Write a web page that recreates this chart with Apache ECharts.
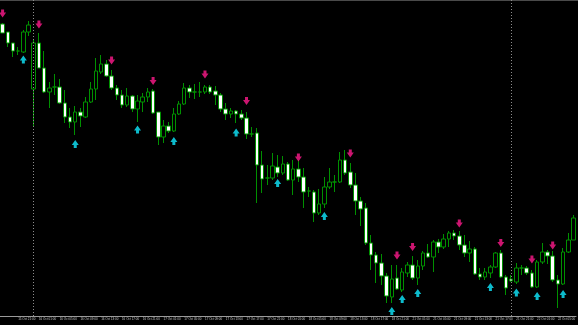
<!DOCTYPE html>
<html>
<head>
<meta charset="utf-8">
<script src="https://cdn.jsdelivr.net/npm/echarts@6/dist/echarts.min.js"></script>
<style>
html,body{margin:0;padding:0;background:#000;}
#chart{width:578px;height:325px;}
</style>
</head>
<body>
<div id="chart"></div>
<script>
// OHLC values (hidden price scale)
const opens = [
1.3676,1.3668,1.3657,1.3649,1.3648,1.3668,1.3611,1.3657,1.3632,1.3608,
1.3613,1.3613,1.3597,1.3583,1.3578,1.3588,1.3583,1.3598,1.3611,1.3628,
1.3636,1.3624,1.3612,1.3605,1.3595,1.3604,1.3591,1.3598,1.3603,1.3609,
1.3588,1.3563,1.3574,1.3569,1.3586,1.3596,1.3612,1.3608,1.3608,1.3608,
1.3613,1.3609,1.3605,1.3591,1.3586,1.3589,1.3586,1.3582,1.3566,1.3567,
1.3535,1.3522,1.3522,1.3533,1.3527,1.3536,1.3520,1.3531,1.3523,1.3509,
1.3508,1.3487,1.3496,1.3513,1.3518,1.3518,1.3540,1.3528,1.3515,1.3499,
1.3492,1.3457,1.3445,1.3437,1.3424,1.3403,1.3422,1.3410,1.3427,1.3435,
1.3422,1.3434,1.3447,1.3443,1.3458,1.3453,1.3461,1.3467,1.3464,1.3455,
1.3447,1.3451,1.3426,1.3423,1.3427,1.3433,1.3447,1.3423,1.3421,1.3418,
1.3432,1.3432,1.3427,1.3413,1.3438,1.3448,1.3444,1.3420,1.3416,1.3448,
1.3460];
const closes = [
1.3667,1.3657,1.3649,1.3649,1.3668,1.3675,1.3657,1.3632,1.3608,1.3612,
1.3613,1.3597,1.3583,1.3578,1.3588,1.3584,1.3598,1.3611,1.3629,1.3636,
1.3624,1.3612,1.3605,1.3595,1.3604,1.3591,1.3599,1.3603,1.3608,1.3587,
1.3563,1.3574,1.3569,1.3586,1.3596,1.3612,1.3608,1.3608,1.3608,1.3613,
1.3608,1.3605,1.3591,1.3586,1.3589,1.3586,1.3582,1.3566,1.3566,1.3535,
1.3521,1.3522,1.3534,1.3527,1.3536,1.3520,1.3531,1.3523,1.3508,1.3509,
1.3487,1.3496,1.3513,1.3518,1.3518,1.3540,1.3527,1.3515,1.3499,1.3491,
1.3457,1.3445,1.3437,1.3424,1.3404,1.3421,1.3411,1.3428,1.3435,1.3422,
1.3434,1.3447,1.3443,1.3458,1.3453,1.3461,1.3467,1.3464,1.3455,1.3447,
1.3451,1.3426,1.3423,1.3428,1.3433,1.3447,1.3423,1.3412,1.3419,1.3432,
1.3432,1.3427,1.3413,1.3438,1.3448,1.3444,1.3420,1.3416,1.3448,1.3460,
1.3482];
const lows = [
1.3667,1.3653,1.3643,1.3645,1.3647,1.3664,1.3574,1.3632,1.3607,1.3592,
1.3605,1.3596,1.3577,1.3572,1.3565,1.3573,1.3582,1.3597,1.3600,1.3626,
1.3623,1.3610,1.3600,1.3592,1.3593,1.3588,1.3578,1.3588,1.3598,1.3586,
1.3555,1.3557,1.3567,1.3568,1.3585,1.3595,1.3602,1.3601,1.3603,1.3606,
1.3606,1.3595,1.3588,1.3580,1.3582,1.3577,1.3580,1.3561,1.3563,1.3497,
1.3507,1.3515,1.3520,1.3523,1.3525,1.3519,1.3505,1.3518,1.3492,1.3503,
1.3478,1.3485,1.3492,1.3511,1.3508,1.3517,1.3525,1.3512,1.3485,1.3474,
1.3455,1.3430,1.3417,1.3415,1.3397,1.3397,1.3410,1.3408,1.3423,1.3420,
1.3415,1.3430,1.3442,1.3428,1.3447,1.3451,1.3453,1.3460,1.3450,1.3443,
1.3438,1.3425,1.3420,1.3420,1.3422,1.3432,1.3422,1.3405,1.3418,1.3416,
1.3425,1.3425,1.3412,1.3412,1.3436,1.3436,1.3418,1.3392,1.3415,1.3447,
1.3460];
const highs = [
1.3677,1.3668,1.3657,1.3653,1.3670,1.3679,1.3660,1.3667,1.3649,1.3618,
1.3626,1.3621,1.3610,1.3592,1.3594,1.3592,1.3603,1.3618,1.3642,1.3645,
1.3640,1.3630,1.3615,1.3610,1.3612,1.3605,1.3605,1.3607,1.3612,1.3611,
1.3588,1.3580,1.3578,1.3592,1.3599,1.3617,1.3615,1.3616,1.3618,1.3615,
1.3615,1.3614,1.3607,1.3597,1.3592,1.3590,1.3590,1.3588,1.3573,1.3572,
1.3549,1.3535,1.3547,1.3545,1.3544,1.3538,1.3540,1.3540,1.3532,1.3513,
1.3510,1.3511,1.3523,1.3532,1.3525,1.3548,1.3550,1.3537,1.3527,1.3503,
1.3497,1.3465,1.3448,1.3446,1.3427,1.3435,1.3435,1.3432,1.3438,1.3444,
1.3440,1.3449,1.3456,1.3460,1.3461,1.3466,1.3469,1.3470,1.3469,1.3465,
1.3459,1.3453,1.3432,1.3432,1.3435,1.3448,1.3450,1.3425,1.3425,1.3437,
1.3435,1.3434,1.3430,1.3440,1.3457,1.3450,1.3449,1.3425,1.3452,1.3467,
1.3485];

// signal arrows: bar index and price level
const downArrowBars   = [0, 7, 21, 29, 39, 47, 57, 67, 76, 79, 88, 96, 102, 106];
const downArrowPrices = [1.36865,1.36755,1.36395,1.3619,1.36255,1.3599,1.35425,1.35465,1.34445,1.3453,1.34765,1.3457,1.34405,1.34545];
const upArrowBars     = [4, 14, 26, 33, 45, 53, 62, 75, 77, 80, 94, 99, 103, 108];
const upArrowPrices   = [1.36405,1.3556,1.35705,1.3559,1.35675,1.3517,1.3484,1.3389,1.3401,1.3407,1.3413,1.34075,1.3404,1.3406];

// period separators (bar index)
const separatorBars = [6, 98];

// time axis tick labels
const tickBars = [0,3,7,11,15,19,23,27,31,35,39,43,47,51,55,59,63,67,71,75,79,83,87,91,95,99,103,107];
const tickLabels = ['15 Oct 2013','15 Oct 21:00','16 Oct 01:00','16 Oct 05:00','16 Oct 09:00','16 Oct 13:00','16 Oct 17:00','16 Oct 21:00',
 '17 Oct 01:00','17 Oct 05:00','17 Oct 09:00','17 Oct 13:00','17 Oct 17:00','17 Oct 21:00','18 Oct 01:00','18 Oct 05:00',
 '18 Oct 09:00','18 Oct 13:00','18 Oct 17:00','18 Oct 21:00','21 Oct 01:00','21 Oct 05:00','21 Oct 09:00','21 Oct 13:00',
 '21 Oct 17:00','21 Oct 21:00','22 Oct 01:00','22 Oct 05:00'];

const categories = opens.map((_, i) => 'b' + i);
const candleData = opens.map((o, i) => [o, closes[i], lows[i], highs[i]]);
const downData = downArrowBars.map((b, i) => [b, downArrowPrices[i]]);
const upData = upArrowBars.map((b, i) => [b, upArrowPrices[i]]);
const labelFor = {};
tickBars.forEach((b, i) => { labelFor[b] = tickLabels[i]; });

const GREEN = '#009000';
const chart = echarts.init(document.getElementById('chart'), null, {renderer: 'canvas'});
chart.setOption({
  backgroundColor: '#000000',
  animation: false,
  grid: {left: -1.125, right: -3.625, top: 0, bottom: 9, containLabel: false},
  xAxis: {
    type: 'category',
    data: categories,
    boundaryGap: true,
    axisLine: {show: true, lineStyle: {color: '#9a9a9a', width: 1}},
    axisTick: {show: false},
    splitLine: {show: false},
    axisLabel: {
      show: true,
      interval: (idx) => labelFor[idx] !== undefined,
      formatter: (v, idx) => labelFor[idx] || '',
      color: '#c4c4c4',
      fontSize: 3,
      fontFamily: 'Liberation Sans',
      align: 'left',
      margin: 2
    }
  },
  yAxis: {
    type: 'value',
    min: 1.3384,
    max: 1.3700,
    show: false,
    splitLine: {show: false}
  },
  series: [
    {
      type: 'candlestick',
      data: candleData,
      barWidth: 4,
      itemStyle: {
        color: '#000000',
        color0: '#ffffff',
        borderColor: GREEN,
        borderColor0: GREEN,
        borderWidth: 1
      },
      markLine: {
        silent: true,
        symbol: ['none', 'none'],
        label: {show: false},
        lineStyle: {color: '#8c8c8c', type: [1, 2], width: 1},
        data: separatorBars.map(b => ({xAxis: b}))
      }
    },
    {
      type: 'scatter',
      data: downData,
      symbol: 'path://M2,0 L5,0 L5,3 L7,3 L3.5,8 L0,3 L2,3 Z',
      symbolSize: [7, 8],
      itemStyle: {color: '#ff1a8c'},
      silent: true
    },
    {
      type: 'scatter',
      data: upData,
      symbol: 'path://M3.5,0 L7,5 L5,5 L5,8 L2,8 L2,5 L0,5 Z',
      symbolSize: [7, 8],
      itemStyle: {color: '#10eaff'},
      silent: true
    }
  ],
  graphic: [
    {type: 'rect', shape: {x: 0, y: 0, width: 578, height: 1}, style: {fill: '#4a4a4a'}, silent: true}
  ]
});
</script>
</body>
</html>
